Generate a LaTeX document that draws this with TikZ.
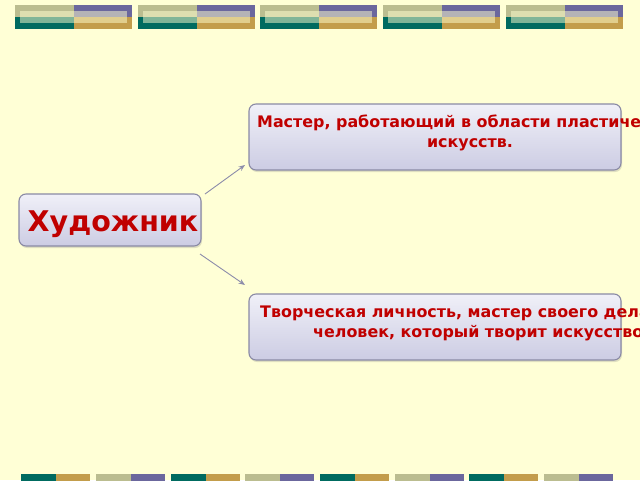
\documentclass[tikz,border=0pt]{standalone}
\usepackage{fontspec}
\setmainfont{DejaVu Sans}
\usetikzlibrary{arrows.meta,shadows}
\definecolor{bg}{HTML}{FFFFD6}
\definecolor{olive}{HTML}{BBBD90}
\definecolor{purp}{HTML}{6B679D}
\definecolor{teal}{HTML}{006B60}
\definecolor{gold}{HTML}{C39D4B}
\definecolor{boxtop}{HTML}{F0F0F8}
\definecolor{boxbot}{HTML}{CCCCE3}
\definecolor{boxline}{HTML}{8A8AA5}
\definecolor{txtred}{HTML}{C00000}
\definecolor{arr}{HTML}{8C8CAA}
\definecolor{veil}{HTML}{FFFFD0}
\tikzset{
  panel/.style={draw=boxline, line width=1.1pt, rounded corners=7pt,
    top color=boxtop, bottom color=boxbot, inner sep=0pt,
    drop shadow={shadow xshift=1pt, shadow yshift=-2pt, opacity=0.25}},
  redtxt/.style={text=txtred, font=\bfseries\fontsize{15.9}{20}\selectfont, inner sep=0pt, anchor=base},
  bigtxt/.style={text=txtred, font=\bfseries\fontsize{28.5}{34}\selectfont, inner sep=0pt, anchor=base},
  link/.style={draw=arr, line width=0.9pt, -{Stealth[length=6.5pt,width=5pt]}}
}
\begin{document}
\begin{tikzpicture}[x=1pt,y=-1pt]
\clip (0,0) rectangle (640,480);
\fill[bg] (0,0) rectangle (640,480);
% top bars
\foreach \x in {15,138,260,383,506}{
  \fill[olive] (\x,5) rectangle ++(58.5,12);
  \fill[purp] (\x+58.5,5) rectangle ++(58.5,12);
  \fill[teal] (\x,17) rectangle ++(58.5,12);
  \fill[gold] (\x+58.5,17) rectangle ++(58.5,12);
  \fill[veil, fill opacity=0.5] (\x+5,11) rectangle (\x+112,23);
}
% bottom bars
\foreach \x [count=\i] in {21,96,171,245,320,395,469,544}{
  \ifodd\i
    \fill[teal] (\x,474) rectangle ++(35,8);
    \fill[gold] (\x+35,474) rectangle ++(34,8);
  \else
    \fill[olive] (\x,474) rectangle ++(35,8);
    \fill[purp] (\x+35,474) rectangle ++(34,8);
  \fi
}
% boxes
\node[panel, minimum width=182pt, minimum height=52pt] (art) at (110,220) {};
\node[panel, minimum width=372pt, minimum height=66pt] (def1) at (435,137) {};
\node[panel, minimum width=372pt, minimum height=66pt] (def2) at (435,327) {};
% texts
\node[bigtxt] (tart) at (113,231) {Художник};
\node[redtxt] (t1a) at (470,127) {Мастер, работающий в области пластических};
\node[redtxt] (t1b) at (470,147) {искусств.};
\node[redtxt, anchor=base west] (t2a) at (260,317) {Творческая личность, мастер своего дела;};
\node[redtxt, anchor=base west] (t2b) at (313,337) {человек, который творит искусство.};
% connectors
\coordinate (a1s) at (205,194);
\coordinate (a1e) at (245,165);
\coordinate (a2s) at (200,254);
\coordinate (a2e) at (245,285);
\draw[link] (a1s) -- (a1e);
\draw[link] (a2s) -- (a2e);
\end{tikzpicture}
\end{document}
